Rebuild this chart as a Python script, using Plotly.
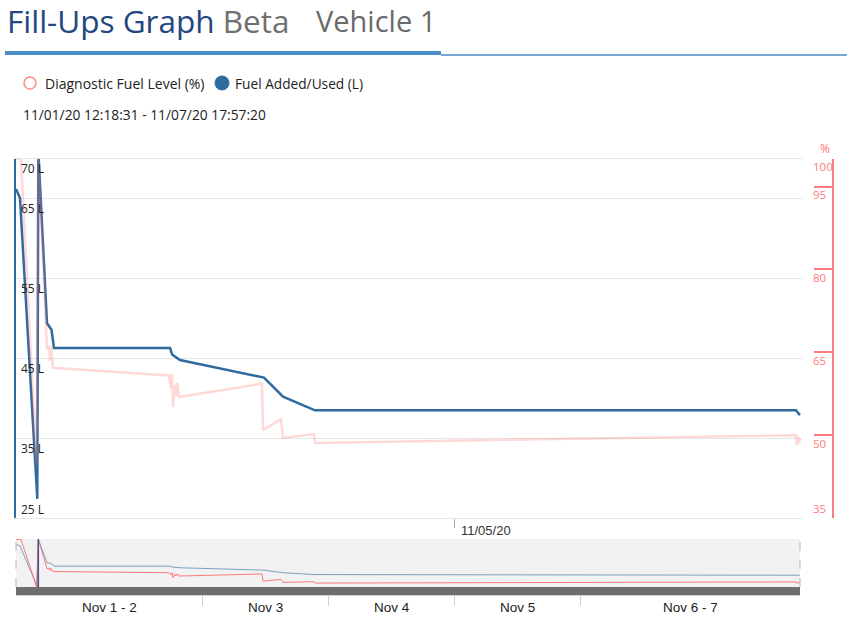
import plotly.graph_objects as go
import pandas as pd

# ---------------- data ----------------
start_time = pd.Timestamp("2020-11-01 12:18:31")
end_time = pd.Timestamp("2020-11-07 17:57:20")

# Fuel Added/Used (L): hours since start, litres
blue_hours = [0.0, 0.76, 4.07, 4.26, 5.92, 6.78, 7.25, 29.4, 29.8, 31.3, 47.34,
              50.97, 57.07, 148.89, 149.27, 149.65]
blue_litres = [66.25, 65.1, 27.4, 71.0, 49.4, 48.6, 46.3, 46.3, 45.5, 44.8, 42.6,
               40.2, 38.5, 38.5, 38.2, 37.9]

# Diagnostic Fuel Level (%): hours since start, percent
red_hours = [0.0, 0.95, 3.91, 4.29, 5.92, 6.30, 6.49, 6.68, 7.06, 29.2, 29.59, 29.78,
             29.97, 30.35, 30.54, 30.73, 31.11, 46.96, 47.15, 50.58, 50.97, 56.88,
             57.07, 148.89, 149.08, 149.27, 149.46, 149.65]
red_pct = [100, 100, 44.5, 100, 65.5, 66.2, 63.5, 66.0, 62.2, 60.8, 58.5, 61.0,
           55.1, 59.0, 57.0, 59.5, 56.9, 59.3, 50.9, 52.9, 49.5, 50.2,
           48.6, 50.0, 48.2, 49.8, 48.5, 49.5]

left_ticks = [70, 65, 55, 45, 35, 25]
right_ticks = [100, 95, 80, 65, 50, 35]
x_tick_date = pd.Timestamp("2020-11-05")
nav_days = [pd.Timestamp(d) for d in ["2020-11-03", "2020-11-04", "2020-11-05", "2020-11-06"]]
nav_labels = ["Nov 1 - 2", "Nov 3", "Nov 4", "Nov 5", "Nov 6 - 7"]

blue_t = start_time + pd.to_timedelta(blue_hours, unit="h")
red_t = start_time + pd.to_timedelta(red_hours, unit="h")

# ---------------- layout helpers ----------------
W, H = 847, 625
def px(x):
    return x / W
def py(y):
    return 1 - y / H

BLUE = "#2f6b9f"
SALMON = "#ff7b7b"
FONT = "Open Sans"

fig = go.Figure()
fig.add_trace(go.Scatter(x=red_t, y=red_pct, xaxis="x", yaxis="y2", mode="lines",
                         line=dict(color="rgba(255,110,110,0.27)", width=2.5),
                         hoverinfo="skip", showlegend=False))
fig.add_trace(go.Scatter(x=blue_t, y=blue_litres, xaxis="x", yaxis="y", mode="lines",
                         line=dict(color=BLUE, width=2.5), showlegend=False))
fig.add_trace(go.Scatter(x=blue_t, y=blue_litres, xaxis="x2", yaxis="y3", mode="lines",
                         line=dict(color="rgba(47,107,159,0.6)", width=1), showlegend=False))
fig.add_trace(go.Scatter(x=red_t, y=red_pct, xaxis="x2", yaxis="y4", mode="lines",
                         line=dict(color="rgba(255,100,100,0.85)", width=1), showlegend=False))

x_end_main = end_time + pd.Timedelta(hours=0.4)

shapes = []
# header bar
shapes.append(dict(type="rect", xref="paper", yref="paper", x0=px(5), x1=px(441),
                   y0=py(55), y1=py(51), fillcolor="#4a8cc4", line=dict(width=0)))
shapes.append(dict(type="line", xref="paper", yref="paper", x0=px(441), x1=px(847),
                   y0=py(55), y1=py(55), line=dict(color="#4a8cc4", width=1.5)))
# legend markers
shapes.append(dict(type="circle", xref="paper", yref="paper", x0=px(24), x1=px(36),
                   y0=py(89), y1=py(77), line=dict(color="#ff8a8a", width=1.5),
                   fillcolor="white"))
shapes.append(dict(type="circle", xref="paper", yref="paper", x0=px(215), x1=px(229),
                   y0=py(90), y1=py(76), line=dict(color=BLUE, width=1), fillcolor=BLUE))
# navigator
shapes.append(dict(type="rect", xref="paper", yref="paper", x0=px(16), x1=px(800),
                   y0=py(587), y1=py(539), fillcolor="#f2f2f2", line=dict(width=0),
                   layer="below"))
shapes.append(dict(type="rect", xref="paper", yref="paper", x0=px(16), x1=px(800),
                   y0=py(595), y1=py(587), fillcolor="#6e6e6e", line=dict(width=0)))
for xx in (16, 800):
    shapes.append(dict(type="line", xref="paper", yref="paper", x0=px(xx), x1=px(xx),
                       y0=py(587), y1=py(539), line=dict(color="#b5b5b5", width=1, dash="dash")))
shapes.append(dict(type="line", xref="x2", yref="paper", x0=blue_t[3], x1=blue_t[3],
                   y0=py(587), y1=py(539), line=dict(color="#4b4f8c", width=1.5)))

ann = []
ann.append(dict(xref="paper", yref="paper", x=px(5), y=py(21), xanchor="left", yanchor="middle",
                text="<span style='color:#23467f'>Fill-Ups Graph</span> <span style='color:#707070'>Beta</span>",
                showarrow=False, font=dict(family=FONT, size=31.5)))
ann.append(dict(xref="paper", yref="paper", x=px(314), y=py(21), xanchor="left", yanchor="middle",
                text="Vehicle 1", showarrow=False, font=dict(family=FONT, size=29, color="#6a6a6a")))
ann.append(dict(xref="paper", yref="paper", x=px(43), y=py(83), xanchor="left", yanchor="middle",
                text="Diagnostic Fuel Level (%)", showarrow=False,
                font=dict(family=FONT, size=14, color="#222")))
ann.append(dict(xref="paper", yref="paper", x=px(233), y=py(83), xanchor="left", yanchor="middle",
                text="Fuel Added/Used (L)", showarrow=False,
                font=dict(family=FONT, size=13.7, color="#222")))
ann.append(dict(xref="paper", yref="paper", x=px(21), y=py(114), xanchor="left", yanchor="middle",
                text="11/01/20 12:18:31 - 11/07/20 17:57:20", showarrow=False,
                font=dict(family=FONT, size=13.8, color="#222")))
for v in left_ticks:
    ann.append(dict(xref="paper", yref="y", x=px(19), y=v, xanchor="left", yanchor="middle",
                    yshift=(9 if v == left_ticks[-1] else -10), text=f"{v} L", showarrow=False,
                    font=dict(family=FONT, size=12, color="#222")))
for v in right_ticks:
    ann.append(dict(xref="paper", yref="y2", x=px(811), y=v, xanchor="left", yanchor="middle",
                    yshift=(10 if v == right_ticks[-1] else -8), text=f"{v}", showarrow=False,
                    font=dict(family=FONT, size=11.5, color=SALMON)))
ann.append(dict(xref="paper", yref="paper", x=px(825), y=py(148), xanchor="center", yanchor="middle",
                text="%", showarrow=False, font=dict(family=FONT, size=12, color=SALMON)))
ann.append(dict(xref="x", yref="paper", x=x_tick_date, y=py(519), xanchor="left", yanchor="top",
                xshift=5, yshift=-2, text="11/05/20", showarrow=False,
                font=dict(family="Liberation Sans", size=13, color="#333")))
bounds = [start_time] + nav_days + [end_time]
for i, lab in enumerate(nav_labels):
    mid = bounds[i] + (bounds[i + 1] - bounds[i]) / 2
    ann.append(dict(xref="x2", yref="paper", x=mid, y=py(607), xanchor="center", yanchor="middle",
                    text=lab, showarrow=False,
                    font=dict(family="Liberation Sans", size=13.5, color="#222")))

fig.update_layout(
    width=W, height=H, margin=dict(l=0, r=0, t=0, b=0),
    paper_bgcolor="white", plot_bgcolor="white", showlegend=False,
    xaxis=dict(domain=[px(16), px(802)], range=[start_time, x_end_main], anchor="y",
               showgrid=False, zeroline=False, tickvals=[x_tick_date], ticktext=[""],
               ticks="outside", ticklen=9, tickcolor="#aaaaaa", showline=True,
               linecolor="#e6e6e6", mirror=True),
    yaxis=dict(domain=[py(518), py(159)], range=[25, 70], anchor="x", tickvals=left_ticks,
               showgrid=True, gridcolor="#e6e6e6", showticklabels=False, zeroline=False,
               showline=True, linecolor=BLUE, linewidth=1.5),
    yaxis2=dict(overlaying="y", anchor="free", position=px(833), side="right",
                range=[35, 100], tickvals=right_ticks, ticks="inside", ticklen=18,
                tickcolor=SALMON, tickwidth=2, showline=True, linecolor=SALMON, linewidth=2,
                showgrid=False, showticklabels=False, zeroline=False),
    xaxis2=dict(domain=[px(16), px(800)], range=[start_time, end_time], anchor="free",
                position=py(595), tickvals=nav_days, ticks="outside", ticklen=10,
                tickcolor="#d0d0d0", showticklabels=False, showline=True,
                linecolor="#d0d0d0", showgrid=False, zeroline=False),
    yaxis3=dict(domain=[py(587), py(539)], anchor="x2", range=[27.0, 71.4], visible=False),
    yaxis4=dict(overlaying="y3", anchor="x2", range=[44.0, 100.5], visible=False),
    shapes=shapes, annotations=ann,
)

fig.write_html("out.html")
